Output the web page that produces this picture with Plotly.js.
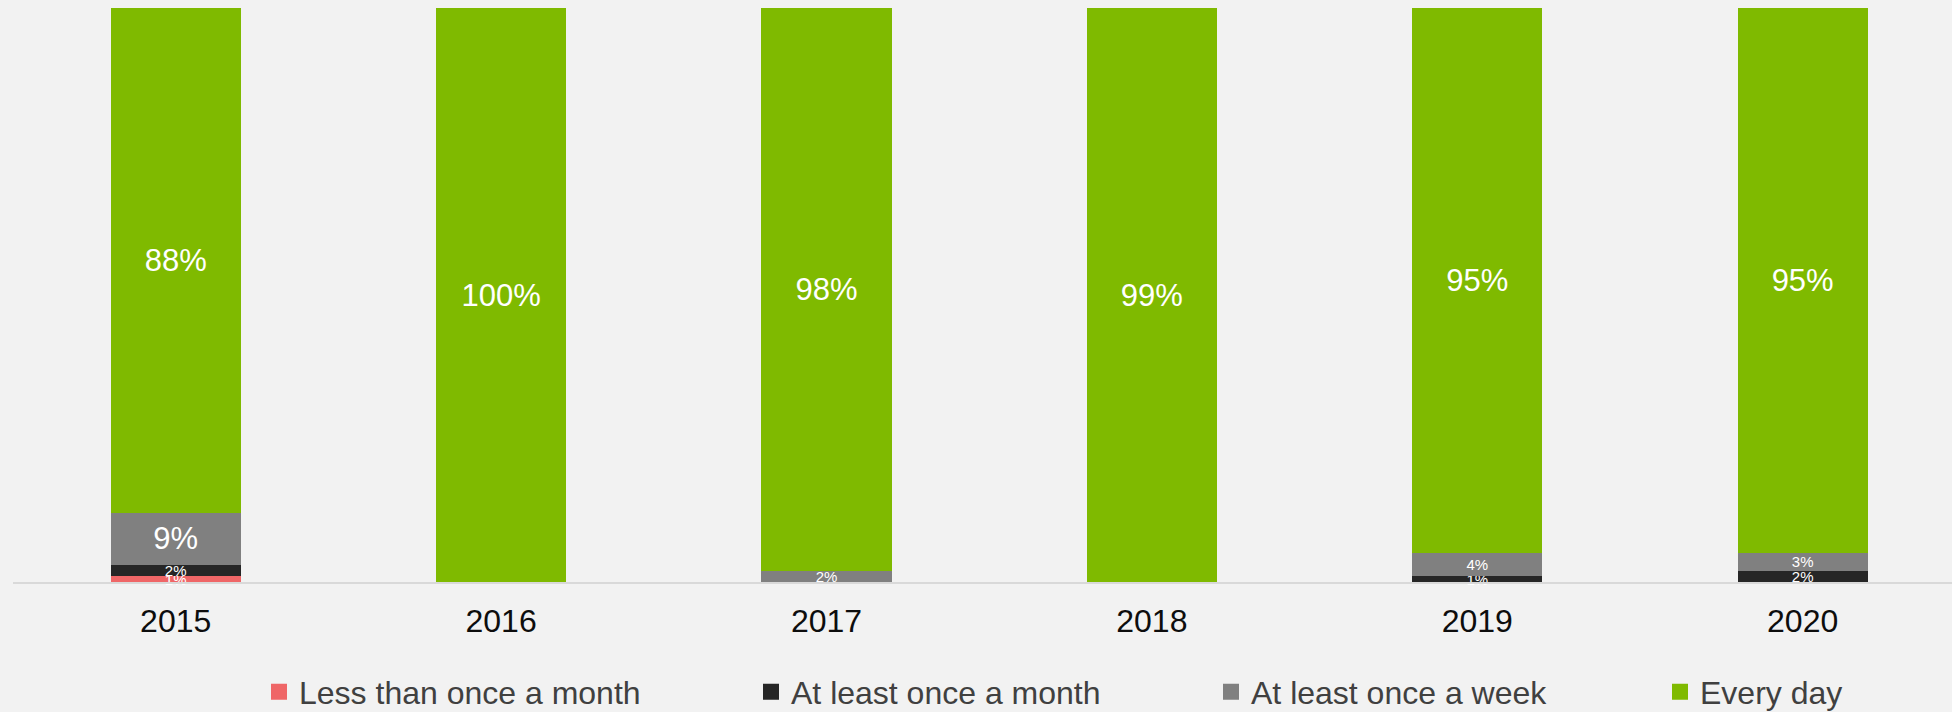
<!DOCTYPE html>
<html>
<head>
<meta charset="utf-8">
<script src="https://cdn.plot.ly/plotly-3.0.1.min.js"></script>
<style>html,body{margin:0;padding:0;background:#F2F2F2;}#chart{width:1952px;height:712px;}</style>
</head>
<body>
<div id="chart"></div>
<script>
const years = ['2015', '2016', '2017', '2018', '2019', '2020'];
const seriesNames = ['Less than once a month', 'At least once a month', 'At least once a week', 'Every day'];
const lessThanMonthly = [1, 0, 0, 0, 0, 0];
const atLeastMonthly = [2, 0, 0, 0, 1, 2];
const atLeastWeekly = [9, 0, 2, 0, 4, 3];
const everyDay = [88, 100, 98, 99, 95, 95];
const colors = ['#EF6667', '#262626', '#808080', '#7FBA00'];

const seriesValues = [lessThanMonthly, atLeastMonthly, atLeastWeekly, everyDay];
const legendIds = ['legend', 'legend2', 'legend3', 'legend4'];
const legendX = [259, 751, 1211, 1660];

const traces = [];
seriesValues.forEach((vals, i) => {
  traces.push({
    type: 'bar',
    name: seriesNames[i],
    x: years,
    y: vals,
    width: 0.4,
    marker: {color: colors[i], line: {width: 0}},
    text: vals.map(v => v > 0 ? v + '%' : ''),
    textposition: 'inside',
    insidetextanchor: 'middle',
    textangle: 0,
    constraintext: 'none',
    cliponaxis: false,
    textfont: {
      family: 'Liberation Sans, Arial, sans-serif',
      color: '#FFFFFF',
      size: vals.map(v => v >= 9 ? 31 : 15)
    },
    showlegend: false,
    hoverinfo: 'skip'
  });
});
seriesValues.forEach((vals, i) => {
  traces.push({
    type: 'scatter',
    mode: 'markers',
    name: seriesNames[i],
    x: [null],
    y: [null],
    marker: {symbol: 'square', size: 16, color: colors[i]},
    legend: legendIds[i],
    showlegend: true,
    hoverinfo: 'skip'
  });
});

const layout = {
  width: 1952,
  height: 712,
  paper_bgcolor: '#F2F2F2',
  plot_bgcolor: '#F2F2F2',
  margin: {l: 13, r: 0, t: 8, b: 130},
  barmode: 'stack',
  barnorm: 'percent',
  font: {family: 'Liberation Sans, Arial, sans-serif'},
  xaxis: {
    type: 'category',
    range: [-0.5, 5.459],
    showline: true,
    linecolor: '#D9D9D9',
    linewidth: 2,
    showgrid: false,
    zeroline: false,
    ticks: '',
    ticklabelstandoff: 10,
    tickfont: {size: 32, color: '#0D0D0D'},
    fixedrange: true
  },
  yaxis: {
    range: [0, 100],
    visible: false,
    showgrid: false,
    zeroline: false,
    fixedrange: true
  }
};
legendIds.forEach((id, i) => {
  layout[id] = {
    orientation: 'h',
    xref: 'container',
    yref: 'container',
    x: legendX[i] / 1952,
    xanchor: 'left',
    y: 20 / 712,
    yanchor: 'middle',
    bgcolor: 'rgba(0,0,0,0)',
    borderwidth: 0,
    font: {size: 32, color: '#404040', family: 'Liberation Sans, Arial, sans-serif'}
  };
});

Plotly.newPlot('chart', traces, layout, {displayModeBar: false, staticPlot: true});
</script>
</body>
</html>
